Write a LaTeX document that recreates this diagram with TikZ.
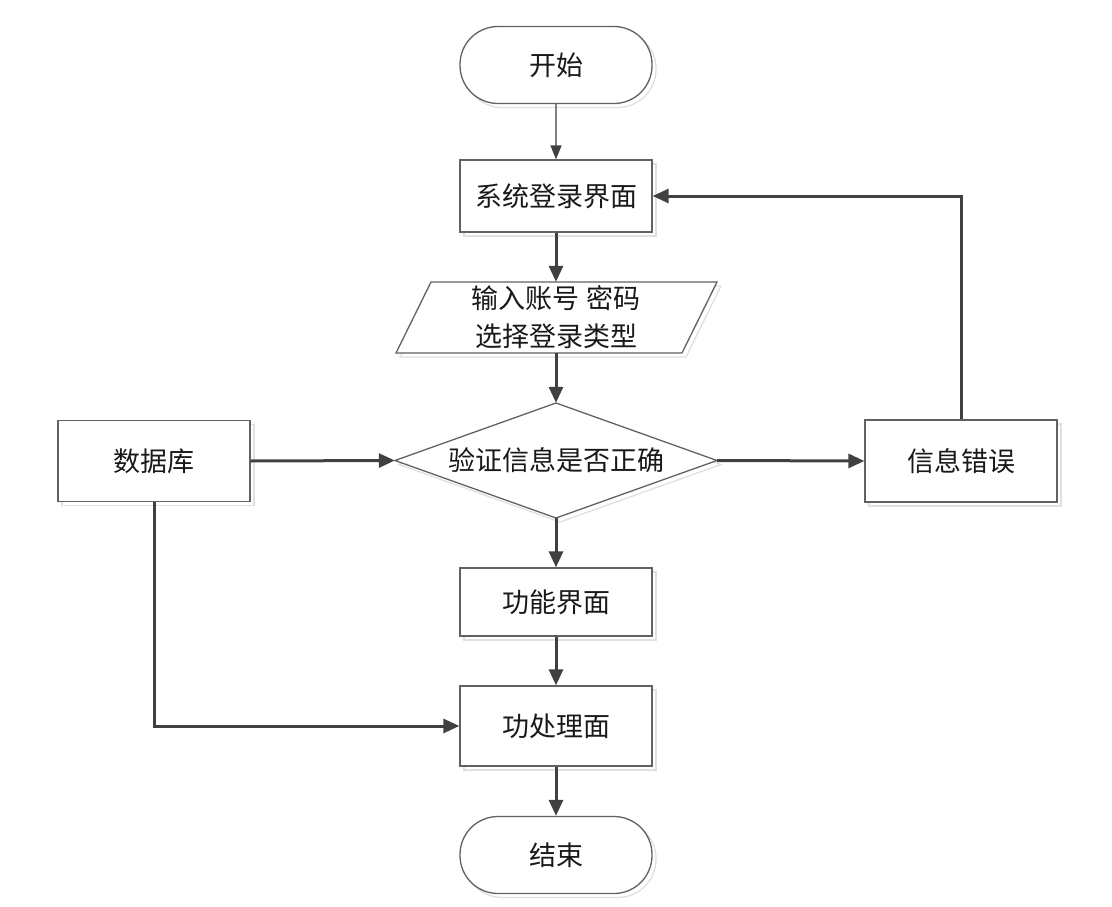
\documentclass[tikz,border=0pt]{standalone}
\usepackage{fontspec}
\setmainfont{Noto Sans CJK SC}
\usetikzlibrary{arrows.meta,shadows}
\begin{document}
\begin{tikzpicture}[x=1pt,y=-1pt,
  txt/.style={font=\fontsize{27}{38}\selectfont, text=black!90, inner sep=0pt, align=center},
  shade copy/.style={copy shadow={shadow xshift=4pt,shadow yshift=-4pt,draw=black!12,fill=white}},
  box/.style={txt, draw=black!62, line width=1.3pt, fill=white, minimum width=192pt, shade copy},
  term/.style={box, rounded corners=38pt, minimum height=77pt},
  outline/.style={draw=black!62, line width=1.3pt, fill=white},
  ghost/.style={draw=black!12, line width=1.3pt, fill=white},
  flow/.style={draw=black!75, line width=3pt, -{Triangle[length=16pt,width=14pt]}},
  thinflow/.style={draw=black!50, line width=1.3pt, -{Triangle[length=14pt,width=11pt,color=black!75]}}
]
\useasboundingbox (0,0) rectangle (1112,907);

% shapes drawn directly (parallelogram and diamond)
\draw[ghost] (400,357)--(686,357)--(721,286)--(435,286)--cycle;
\draw[outline] (396,353)--(682,353)--(717,282)--(431,282)--cycle;
\draw[ghost] (560,407)--(721,464.5)--(560,522)--(399,464.5)--cycle;
\draw[outline] (556,403)--(717,460.5)--(556,518)--(395,460.5)--cycle;

\node[term] (start) at (556,65) {开始};
\node[box, minimum height=72pt] (login) at (556,196) {系统登录界面};
\node[txt, minimum width=322pt, minimum height=71pt] (input) at (556,317.5) {输入账号 密码\\选择登录类型};
\node[txt, minimum width=322pt, minimum height=115pt] (verify) at (556,460.5) {验证信息是否正确};
\node[box, minimum height=81pt] (db) at (154,461) {数据库};
\node[box, minimum height=82pt] (err) at (961,461) {信息错误};
\node[box, minimum height=68pt] (func) at (556,602) {功能界面};
\node[box, minimum height=80pt] (proc) at (556,726) {功处理面};
\node[term] (end) at (556,855) {结束};

\draw[thinflow] (start.south) -- (login.north);
\draw[flow] (login.south) -- (input.north);
\draw[flow] (input.south) -- (verify.north);
\draw[flow] (db.east) -- (verify.west);
\draw[flow] (verify.east) -- (err.west);
\draw[flow] (verify.south) -- (func.north);
\draw[flow] (func.south) -- (proc.north);
\draw[flow] (proc.south) -- (end.north);
\draw[flow] (err.north) |- (login.east);
\draw[flow] (db.south) |- (proc.west);
\end{tikzpicture}
\end{document}
